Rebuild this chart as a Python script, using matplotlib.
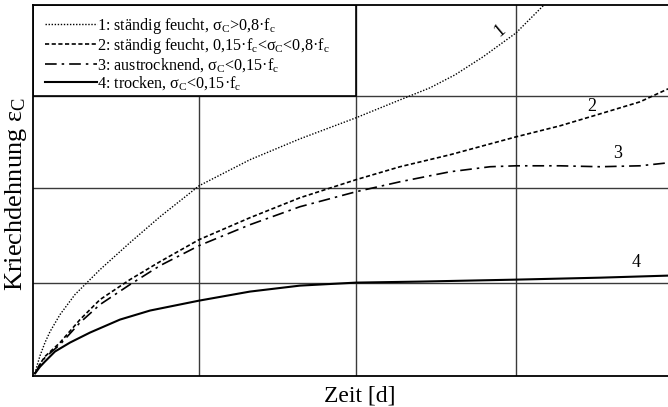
import matplotlib
matplotlib.use("Agg")
import matplotlib.pyplot as plt
from matplotlib.patches import Rectangle

plt.rcParams['font.family'] = ['Liberation Serif', 'DejaVu Serif']
plt.rcParams['mathtext.fontset'] = 'stix'

# Werte (Zeit und Kriechdehnung in Rastereinheiten)
t1 = [0, 0.013, 0.032, 0.063, 0.095, 0.158, 0.252, 0.41, 0.599, 0.789, 1.035,
      1.356, 1.672, 2.025, 2.303, 2.492, 2.65, 2.826, 3.035, 3.205, 3.24]
eps1 = [0.027, 0.112, 0.219, 0.358, 0.476, 0.658, 0.872, 1.139, 1.428, 1.706, 2.037,
        2.316, 2.54, 2.765, 2.957, 3.086, 3.225, 3.417, 3.674, 3.963, 4.05]

t2 = [0, 0.032, 0.063, 0.158, 0.284, 0.41, 0.599, 0.789, 1.035, 1.356, 1.672, 2.025,
      2.303, 2.618, 3.035, 3.312, 3.565, 3.817, 3.994]
eps2 = [0.027, 0.13, 0.209, 0.358, 0.604, 0.818, 1.032, 1.225, 1.46, 1.695, 1.909, 2.102,
        2.241, 2.369, 2.561, 2.679, 2.807, 2.936, 3.075]

t3 = [0, 0.032, 0.063, 0.158, 0.284, 0.41, 0.599, 0.789, 1.035, 1.356, 1.672, 2.025,
      2.303, 2.618, 2.871, 3.035, 3.312, 3.565, 3.817, 3.994]
eps3 = [0.027, 0.125, 0.198, 0.337, 0.572, 0.765, 0.979, 1.182, 1.396, 1.62, 1.813, 1.973,
        2.08, 2.187, 2.241, 2.251, 2.251, 2.241, 2.251, 2.283]

t4 = [0, 0.032, 0.063, 0.126, 0.221, 0.347, 0.536, 0.726, 1.035, 1.356, 1.672, 2.025,
      2.429, 3.035, 3.565, 3.994]
eps4 = [0.027, 0.1, 0.155, 0.262, 0.358, 0.465, 0.604, 0.701, 0.807, 0.904, 0.968, 1.0,
        1.011, 1.032, 1.053, 1.075]

labels = [
    r'1: ständig feucht, $\mathregular{σ_C}$>0,8·$\mathregular{f_c}$',
    r'2: ständig feucht, 0,15·$\mathregular{f_c}$<$\mathregular{σ_C}$<0,8·$\mathregular{f_c}$',
    r'3: austrocknend, $\mathregular{σ_C}$<0,15·$\mathregular{f_c}$',
    r'4: trocken, $\mathregular{σ_C}$<0,15·$\mathregular{f_c}$',
]

fig = plt.figure(figsize=(6.68, 4.07), dpi=100)
ax = fig.add_axes([33 / 668, 31 / 407, 639 / 668, 371 / 407])

ax.plot(t1, eps1, color='black', lw=1.0, linestyle=(0, (1, 1.2)), label=labels[0], zorder=3)
ax.plot(t2, eps2, color='black', lw=1.2, linestyle=(0, (2.5, 1.5)), label=labels[1], zorder=3)
ax.plot(t3, eps3, color='black', lw=1.2, linestyle=(0, (7, 3, 1.5, 3)), label=labels[2], zorder=3)
ax.plot(t4, eps4, color='black', lw=1.5, linestyle='-', label=labels[3], zorder=3)

ax.set_xlim(-0.0126, 4.019)
ax.set_ylim(0, 3.973)
ax.set_xticks([1.035, 2.025, 3.035])
ax.set_yticks([1.0, 2.015, 3.0])
ax.tick_params(length=0, labelbottom=False, labelleft=False)
ax.grid(True, color='#3a3a3a', lw=1.0)
ax.set_axisbelow(True)
for s in ax.spines.values():
    s.set_linewidth(1.3)

# Legendenkasten im linken oberen Rasterfeld
ax.add_patch(Rectangle((-0.0126, 3.0), 2.025 + 0.0126, 0.973, facecolor='white',
                       edgecolor='black', lw=1.2, zorder=2))
ax.legend(loc='upper left', frameon=False, fontsize=11.6, handlelength=3.2,
          handletextpad=0.05, labelspacing=0.0, borderaxespad=0, borderpad=0,
          bbox_to_anchor=(0.0188, 0.970))

ax.text(2.934, 3.695, '1', fontsize=13, rotation=40, ha='center', va='center')
ax.text(3.514, 2.882, '2', fontsize=13, ha='center', va='center')
ax.text(3.678, 2.38, '3', fontsize=13, ha='center', va='center')
ax.text(3.79, 1.214, '4', fontsize=13, ha='center', va='center')

ax.set_xlabel('Zeit [d]', fontsize=17)
ax.xaxis.set_label_coords(0.512, -0.025, transform=ax.transAxes)
ax.xaxis.label.set_va('top')
ax.set_ylabel(r'Kriechdehnung $\mathregular{ε_C}$', fontsize=19)
ax.yaxis.set_label_coords(-0.006, 0.49, transform=ax.transAxes)

fig.savefig('out.png', dpi=100)
